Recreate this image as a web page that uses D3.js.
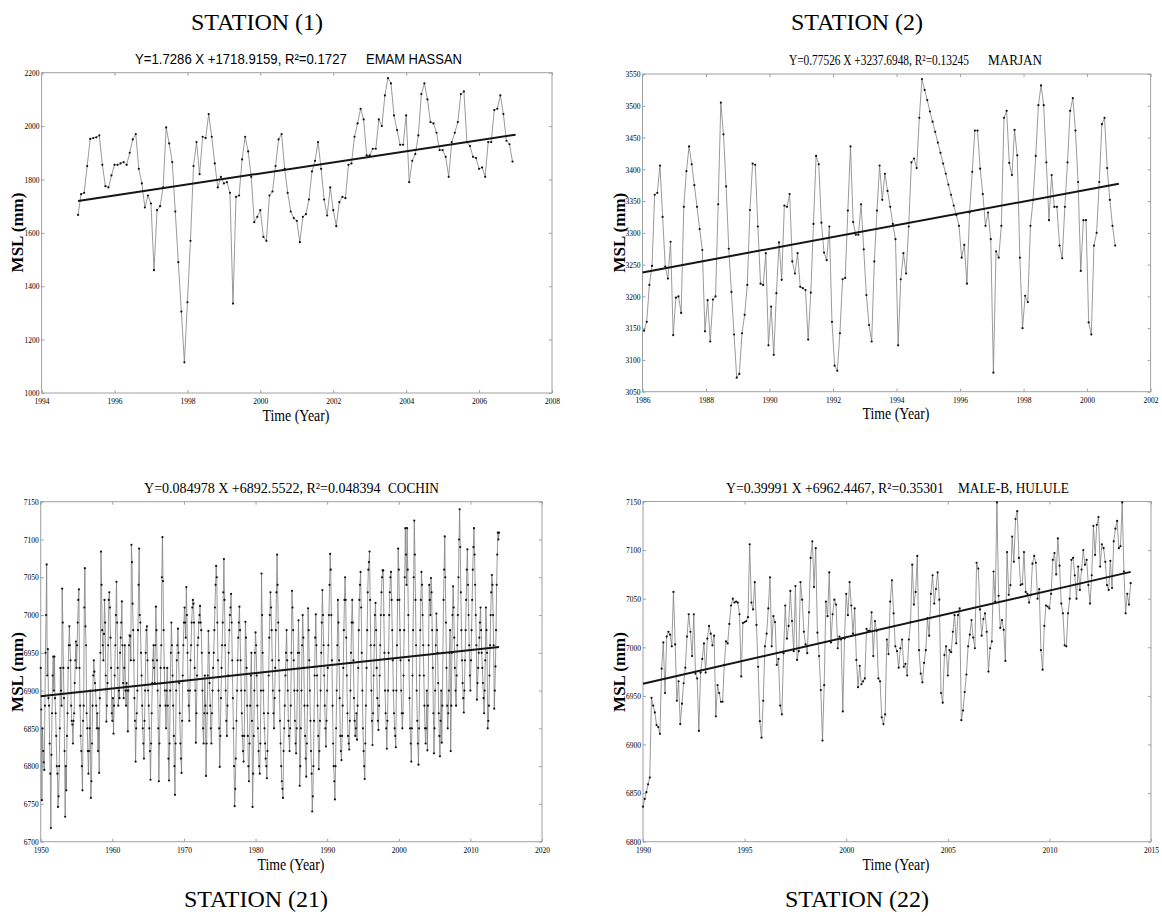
<!DOCTYPE html>
<html>
<head>
<meta charset="utf-8">
<script src="https://cdn.jsdelivr.net/npm/d3@7"></script>
<style>
	body { margin: 0; background: #fff; }
	text { fill: #000; }
	.frame { fill: none; stroke: #a0a0a0; stroke-width: 1; }
	.tick line { stroke: #a0a0a0; }
	.msl { fill: none; stroke: #808080; stroke-width: .8; }
	.dot { fill: #111; }
	.trend { stroke: #151515; stroke-width: 2; }
</style>
</head>
<body>
<script>

// Titels en regressie uit de figuur
const stationTitles = [ 'STATION (1)', 'STATION (2)', 'STATION (21)', 'STATION (22)' ],
	stationNames = [ 'EMAM HASSAN', 'MARJAN', 'COCHIN', 'MALE-B, HULULE' ],
	slopes = [ 1.7286, 0.77526, 0.084978, 0.39991 ],
	intercepts = [ 1718.9159, 3237.6948, 6892.5522, 6962.4467 ],
	rSquared = [ 0.1727, 0.13245, 0.048394, 0.35301 ],
	startYears = [ 1995, 1986.05, 1950, 1990 ], // eerste maand van elke reeks
	trendMonths = [ 144, 180, 768, 288 ], // lengte van de trendlijn in maanden

	xTicks1 = [ 1994, 1996, 1998, 2000, 2002, 2004, 2006, 2008 ],
	xTicks2 = [ 1986, 1988, 1990, 1992, 1994, 1996, 1998, 2000, 2002 ],
	xTicks3 = [ 1950, 1960, 1970, 1980, 1990, 2000, 2010, 2020 ],
	xTicks4 = [ 1990, 1995, 2000, 2005, 2010, 2015 ],

	yTicks1 = [ 1000, 1200, 1400, 1600, 1800, 2000, 2200 ],
	yTicks2 = [ 3050, 3100, 3150, 3200, 3250, 3300, 3350, 3400, 3450, 3500, 3550 ],
	yTicks3 = [ 6700, 6750, 6800, 6850, 6900, 6950, 7000, 7050, 7100, 7150 ],
	yTicks4 = [ 6800, 6850, 6900, 6950, 7000, 7050, 7100, 7150 ]

const msl1 = [
	1667, 1745, 1750, 1850, 1952, 1955, 1958, 1965, 1855, 1775, 1770, 1815,
	1855, 1855, 1860, 1865, 1855, 1900, 1950, 1970, 1840, 1785, 1695, 1740,
	1710, 1460, 1685, 1700, 1770, 1995, 1935, 1865, 1680, 1490, 1305, 1115,
	1340, 1570, 1850, 1940, 1820, 1960, 1955, 2045, 1960, 1860, 1770, 1810,
	1785, 1790, 1750, 1335, 1735, 1740, 1875, 1960, 1905, 1810, 1640, 1660,
	1685, 1585, 1570, 1740, 1755, 1850, 1950, 1970, 1840, 1750, 1680, 1655,
	1645, 1565, 1660, 1670, 1725, 1830, 1870, 1940, 1840, 1725, 1665, 1770,
	1685, 1625, 1715, 1735, 1730, 1855, 1860, 1960, 2010, 2065, 2025, 1890,
	1890, 1915, 1915, 2025, 2000, 2115, 2180, 2160, 2040, 1985, 1930, 1930,
	2040, 1790, 1870, 1895, 1965, 2120, 2160, 2100, 2015, 2010, 1975, 1910,
	1910, 1885, 1810, 1940, 1975, 2015, 2120, 2130, 1940, 1925, 1885, 1880,
	1840, 1845, 1810, 1940, 1940, 2060, 2065, 2115, 2045, 1945, 1932, 1867
]

const msl2 = [
	3146, 3160, 3218, 3248, 3360, 3363, 3406, 3325, 3247, 3228,
	3286, 3139, 3198, 3200, 3174, 3341, 3397, 3436, 3408, 3375,
	3341, 3306, 3273, 3145, 3194, 3129, 3195, 3200, 3345, 3505,
	3455, 3373, 3275, 3207, 3140, 3072, 3078, 3142, 3171, 3218,
	3336, 3409, 3407, 3310, 3220, 3218, 3268, 3123, 3184, 3108,
	3205, 3285, 3226, 3343, 3341, 3361, 3255, 3236, 3268, 3215,
	3213, 3210, 3132, 3206, 3314, 3421, 3408, 3316, 3269, 3257,
	3310, 3160, 3091, 3083, 3142, 3227, 3229, 3335, 3436, 3317,
	3297, 3297, 3345, 3274, 3202, 3155, 3129, 3255, 3335, 3406,
	3352, 3393, 3366, 3341, 3314, 3290, 3123, 3227, 3268, 3236,
	3310, 3411, 3417, 3402, 3481, 3542, 3525, 3509, 3491, 3475,
	3459, 3442, 3426, 3409, 3393, 3376, 3360, 3343, 3328, 3311,
	3261, 3281, 3220, 3332, 3396, 3461, 3461, 3401, 3361, 3311,
	3332, 3290, 3080, 3271, 3261, 3311, 3481, 3492, 3410, 3391,
	3462, 3422, 3261, 3150, 3201, 3191, 3311, 3352, 3421, 3501,
	3532, 3501, 3411, 3320, 3391, 3341, 3341, 3280, 3260, 3341,
	3411, 3492, 3512, 3461, 3380, 3240, 3320, 3320, 3159, 3140,
	3280, 3300, 3380, 3471, 3481, 3402, 3352, 3311, 3280
]

const msl3 = [
	6930, 6875, 6755, 6850, 6820, 6805, 6795, 6880, 6950, 7000, 7067, 6920,
	6955, 6890, 6880, 6830, 6790, 6718, 6815, 6870, 6920, 6945, 6900, 6945,
	6890, 6870, 6840, 6800, 6790, 6746, 6760, 6800, 6850, 6930, 6900, 6880,
	7035, 6990, 6930, 6890, 6820, 6733, 6800, 6768, 6840, 6870, 6930, 6960,
	6985, 6960, 6940, 6880, 6860, 6855, 6830, 6860, 6870, 6910, 6940, 6965,
	6930, 6960, 6990, 7020, 7034, 6930, 6880, 6840, 6820, 6800, 6768, 6860,
	6880, 7010, 7062, 6985, 6960, 6870, 6850, 6820, 6790, 6820, 6850, 6900,
	6758, 6780, 6830, 6880, 6920, 6940, 6925, 6910, 6900, 6880, 6850, 6870,
	6820, 6850, 6791, 6890, 6950, 7084, 7040, 6980, 6960, 6940, 6975, 7020,
	6990, 6920, 6859, 6880, 6910, 6960, 7020, 7030, 7010, 6970, 6930, 6870,
	6860, 6890, 6843, 6880, 6920, 6960, 7000, 7044, 6990, 6930, 6880, 6900,
	6890, 6950, 6970, 6990, 7018, 6960, 6910, 6890, 6930, 6960, 6900, 6880,
	6910, 6900, 6846, 6900, 6960, 6973, 6972, 6940, 7093, 7070, 7015, 6980,
	6940, 6890, 6860, 6806, 6850, 6870, 6900, 6980, 7040, 7088, 7000, 6990,
	6950, 6920, 6880, 6850, 6830, 6810, 6860, 6900, 6950, 6980, 6985, 6940,
	6900, 6880, 6850, 6820, 6782, 6830, 6870, 6910, 6940, 6960, 6930, 6910,
	6960, 7011, 6980, 6940, 6900, 6850, 6780, 6830, 6880, 6930, 6960, 7050,
	7103, 7045, 6980, 6930, 6900, 6880, 6850, 6900, 6930, 6880, 6810, 6781,
	6830, 6900, 6950, 6990, 6960, 6920, 6880, 6840, 6800, 6762, 6830, 6900,
	6940, 6960, 6982, 6950, 6910, 6870, 6830, 6810, 6791, 6860, 6920, 6960,
	6990, 7010, 6990, 6970, 7037, 7000, 6950, 6900, 6880, 6860, 6900, 6940,
	6960, 6990, 7010, 7020, 7015, 6990, 6930, 6900, 6831, 6870, 6920, 6960,
	6970, 6990, 7000, 7012, 6990, 6980, 6950, 6900, 6850, 6830, 6870, 6920,
	6880, 6787, 6830, 6870, 6920, 6979, 6950, 6910, 6880, 6850, 6830, 6870,
	6900, 6930, 6950, 6980, 7010, 7040, 7065, 7050, 6990, 6940, 6900, 6850,
	6799, 6840, 6890, 6930, 6960, 6990, 7030, 7074, 7020, 6960, 6900, 6860,
	6840, 6880, 6920, 6950, 6980, 7000, 7010, 7028, 6990, 6940, 6890, 6850,
	6800, 6747, 6770, 6810, 6860, 6900, 6940, 6970, 6990, 7011, 6980, 6940,
	6900, 6870, 6840, 6820, 6806, 6840, 6900, 6991, 6970, 6930, 6880, 6840,
	6800, 6780, 6830, 6880, 6920, 6950, 6860, 6746, 6790, 6840, 6900, 6950,
	6977, 6960, 6920, 6880, 6850, 6820, 6800, 6790, 6830, 6900, 7055, 7000,
	6950, 6900, 6870, 6850, 6830, 6810, 6800, 6784, 6820, 6870, 6920, 6970,
	7000, 7030, 7010, 6980, 6940, 6900, 6870, 6850, 6890, 6930, 6980, 7030,
	7080, 7040, 6990, 6940, 6900, 6860, 6830, 6800, 6780, 6770, 6758, 6820,
	6850, 6880, 6920, 6950, 6980, 6940, 6900, 6860, 6840, 6820, 6850, 6880,
	6950, 7032, 7010, 6980, 6940, 6900, 6860, 6830, 6817, 6850, 6900, 6950,
	6993, 6950, 6774, 6800, 6850, 6900, 6960, 7000, 6970, 6930, 6880, 6840,
	6810, 6786, 6830, 6880, 7009, 6980, 6940, 6900, 6860, 6820, 6790, 6740,
	6760, 6800, 6860, 6920, 6970, 7001, 6960, 6920, 6880, 6840, 6796, 6820,
	6860, 6900, 6950, 6990, 7033, 7000, 6960, 6920, 6880, 6850, 6826, 6860,
	6900, 6930, 6960, 7000, 7040, 7081, 7060, 7000, 6940, 6880, 6830, 6800,
	6780, 6756, 6800, 6850, 6900, 6960, 7020, 6990, 6940, 6890, 6840, 6820,
	6808, 6840, 6880, 6930, 6980, 7020, 7050, 7020, 6970, 6920, 6870, 6840,
	6830, 6822, 6860, 6900, 6950, 6990, 7020, 6990, 6940, 6890, 6860, 6840,
	6850, 6870, 6835, 6880, 6930, 6980, 7020, 7040, 7057, 7010, 6950, 6900,
	6850, 6820, 6800, 6783, 6830, 6880, 6930, 6980, 7030, 7060, 7070, 7084,
	7020, 6960, 6900, 6860, 6828, 6870, 6920, 6960, 7000, 7016, 6980, 6930,
	6890, 6860, 6848, 6880, 6920, 6960, 7000, 7030, 7050, 7059, 7059, 7000,
	6950, 6900, 6870, 6850, 6823, 6860, 6900, 6950, 7000, 7030, 7050, 7057,
	7020, 6980, 6940, 6900, 6870, 6850, 6840, 6825, 6900, 6960, 7020, 7088,
	7060, 7020, 6980, 6940, 6900, 6870, 6850, 6870, 6920, 6980, 7050, 7115,
	7080, 7040, 7115, 7060, 7000, 6940, 6890, 6850, 6830, 6806, 6850, 6920,
	6980, 7050, 7125, 7080, 7020, 6960, 6900, 6860, 6830, 6802, 6850, 6920,
	6980, 7020, 7057, 7040, 7000, 6960, 6920, 6880, 6850, 6830, 6850, 6900,
	6821, 6880, 6960, 7040, 7020, 7000, 7049, 7030, 6980, 6930, 6870, 6817,
	6850, 6900, 6960, 7002, 6980, 6950, 6910, 6870, 6840, 6813, 6860, 6900,
	6831, 6880, 6950, 7020, 7060, 7104, 7050, 6990, 6930, 6880, 6850, 6870,
	6900, 6950, 6980, 6820, 6880, 6950, 7000, 7038, 7010, 6970, 6930, 6900,
	6880, 6920, 6960, 7000, 7050, 7100, 7140, 7090, 7030, 6980, 6940, 6910,
	6890, 6871, 6900, 6940, 6980, 7020, 7060, 7087, 7040, 7000, 6960, 6920,
	6900, 6940, 6980, 7020, 7060, 7090, 7115, 7080, 7040, 7000, 6960, 6888,
	6910, 6930, 6950, 6970, 6990, 7010, 6980, 6950, 6930, 6910, 6890, 6870,
	6900, 6940, 7010, 6980, 6950, 6850, 6860, 6880, 6920, 6960, 7000, 7030,
	7053, 7040, 7000, 6960, 6876, 6900, 6932, 6980, 7040, 7080, 7109, 7100,
	7109
]

const msl4 = [
	6836, 6844, 6851, 6859, 6866, 6948, 6940, 6933, 6920, 6918,
	6911, 6978, 7005, 6953, 7011, 7016, 7013, 7001, 7057, 7003,
	6945, 6965, 6921, 6942, 6963, 6979, 7011, 7034, 7016, 6991,
	7034, 6973, 6968, 6914, 6974, 6988, 7004, 6974, 7009, 7022,
	7014, 7002, 7012, 6929, 6961, 6953, 6944, 6944, 6982, 7006,
	7004, 7024, 7043, 7050, 7046, 7047, 7046, 7034, 6970, 7025,
	7026, 7027, 7031, 7106, 7046, 7039, 7067, 7023, 6980, 6924,
	6907, 6945, 7001, 7014, 7040, 7072, 7001, 7032, 7026, 6982,
	6988, 6940, 6931, 6994, 7043, 7009, 7022, 7058, 7027, 6996,
	7063, 6987, 6996, 7067, 7049, 7016, 7003, 6994, 7036, 7092,
	7109, 7062, 7102, 7015, 6991, 6956, 6904, 6961, 7047, 7032,
	7077, 7005, 7034, 7049, 7044, 6999, 7011, 7008, 6934, 7009,
	7055, 7033, 7067, 7043, 7014, 7040, 6987, 6959, 6981, 6962,
	6965, 6968, 7019, 7017, 7017, 7036, 6991, 7027, 7017, 6968,
	6965, 6928, 6921, 6931, 7008, 6993, 7047, 7069, 7035, 7001,
	6996, 6979, 6999, 7008, 6980, 6983, 6971, 7008, 7026,
	7085, 7044, 7057, 7094, 6997, 6973, 6964, 6984, 6997, 7030,
	7012, 7055, 7074, 7045, 7060, 7077, 7049, 6953, 6943, 6992,
	7001, 6971, 6997, 6995, 7016, 7033, 7004, 7033, 7040, 6925,
	6935, 6954, 6972, 7001, 7013, 7028, 7010, 6999, 7087, 7081,
	7039, 7012, 7029, 7035, 7016, 6975, 6999, 7006, 7078, 7047,
	7149, 7053, 7020, 7028, 7018, 6986, 7098, 7054, 7064, 7114,
	7088, 7132, 7140, 7092, 7064, 7065, 7098, 7057, 7055, 7046,
	7054, 7086, 7094, 7087, 7050, 7060, 6997, 6977, 7022, 7043,
	7042, 7040, 7055, 7090, 7097, 7075, 7112, 7084, 7045, 7035,
	7002, 7001, 7035, 7050, 7090, 7092, 7074, 7050, 7083, 7059,
	7080, 7100, 7085, 7090, 7064, 7045, 7074, 7125, 7095, 7126,
	7134, 7083, 7106, 7102, 7088, 7064, 7059, 7089, 7061, 7109,
	7122, 7130, 7102, 7104, 7149, 7078, 7035, 7055, 7044, 7066
]

const series = [ msl1, msl2, msl3, msl4 ],
	xTicks = [ xTicks1, xTicks2, xTicks3, xTicks4 ],
	yTicks = [ yTicks1, yTicks2, yTicks3, yTicks4 ]

// Plek van elk paneel op de pagina
const layout = [
	{ x0: 41.6, x1: 552, y0: 72.7, y1: 393, title: [ 257, 30 ], eq: [ 135, 64, 212 ], name: [ 366, 96 ], time: [ 296, 421 ], msl: [ 17, 232.5 ], sans: true },
	{ x0: 642.5, x1: 1150.6, y0: 74, y1: 391.7, title: [ 857, 30 ], eq: [ 789, 65, 180 ], name: [ 988, 54 ], time: [ 896, 419 ], msl: [ 618.6, 232.7 ] },
	{ x0: 40.7, x1: 542, y0: 501.7, y1: 841.7, title: [ 256, 907 ], eq: [ 144, 492.7, 237 ], name: [ 388, 51 ], time: [ 291, 870 ], msl: [ 17, 672 ] },
	{ x0: 643, x1: 1151, y0: 501.5, y1: 841.7, title: [ 857, 907 ], eq: [ 726, 492.7, 218 ], name: [ 958, 111 ], time: [ 896, 870 ], msl: [ 618.6, 672 ] }
]

const serif = '"Liberation Serif", "Times New Roman", serif',
	sans = '"Liberation Sans", Arial, sans-serif'

const svg = d3.select( 'body' )
	.append( 'svg' )
	.attr( 'width', 1162 )
	.attr( 'height', 916 )

layout.forEach( ( box, p ) => drawPanel( box, p ) )

// Tekst smaller maken tot de gemeten breedte (de figuur is horizontaal geplet)
function squeeze( sel, x, y, width, anchor ) {

	const natural = sel.node().getComputedTextLength(),
		k = Math.min( 1, width / natural ),
		shift = anchor === 'middle' ? 0 : 0

	sel.attr( 'x', 0 )
		.attr( 'y', 0 )
		.attr( 'text-anchor', anchor || 'start' )
		.attr( 'transform', `translate( ${ x + shift }, ${ y } ) scale( ${ k }, 1 )` )

}

function drawPanel( box, p ) {

	const values = series[ p ],
		x = d3.scaleLinear()
			.domain( d3.extent( xTicks[ p ] ) )
			.range( [ box.x0, box.x1 ] ),
		y = d3.scaleLinear()
			.domain( d3.extent( yTicks[ p ] ) )
			.range( [ box.y1, box.y0 ] ),
		points = values.map( ( v, i ) => ( { t: startYears[ p ] + i / 12, v } ) ),
		g = svg.append( 'g' ),
		font = box.sans ? sans : serif

	// Assen met de streepjes naar binnen
	const styleTicks = sel => {
		sel.select( '.domain' ).remove()
		sel.selectAll( 'text' )
			.attr( 'font-family', serif )
			.attr( 'font-size', 8.5 )
			.attr( 'textLength', 15 )
			.attr( 'lengthAdjust', 'spacingAndGlyphs' )
	}

	g.append( 'g' )
		.attr( 'transform', `translate( 0, ${ box.y1 } )` )
		.call( d3.axisBottom( x ).tickValues( xTicks[ p ] ).tickFormat( d3.format( 'd' ) ).tickSizeInner( -3 ).tickSizeOuter( 0 ).tickPadding( 5 ) )
		.call( styleTicks )

	g.append( 'g' )
		.attr( 'transform', `translate( ${ box.x0 }, 0 )` )
		.call( d3.axisLeft( y ).tickValues( yTicks[ p ] ).tickFormat( d3.format( 'd' ) ).tickSizeInner( -3 ).tickSizeOuter( 0 ).tickPadding( 2 ) )
		.call( styleTicks )

	g.append( 'g' )
		.attr( 'transform', `translate( 0, ${ box.y0 } )` )
		.call( d3.axisTop( x ).tickValues( xTicks[ p ] ).tickFormat( '' ).tickSizeInner( -3 ).tickSizeOuter( 0 ) )
		.call( styleTicks )

	g.append( 'g' )
		.attr( 'transform', `translate( ${ box.x1 }, 0 )` )
		.call( d3.axisRight( y ).tickValues( yTicks[ p ] ).tickFormat( '' ).tickSizeInner( -3 ).tickSizeOuter( 0 ) )
		.call( styleTicks )

	g.append( 'rect' )
		.attr( 'class', 'frame' )
		.attr( 'x', box.x0 )
		.attr( 'y', box.y0 )
		.attr( 'width', box.x1 - box.x0 )
		.attr( 'height', box.y1 - box.y0 )

	// De meetreeks
	g.append( 'path' )
		.datum( points )
		.attr( 'class', 'msl' )
		.attr( 'd', d3.line().x( d => x( d.t ) ).y( d => y( d.v ) ) )

	g.selectAll( '.dot' )
		.data( points )
		.enter()
		.append( 'circle' )
		.attr( 'class', 'dot' )
		.attr( 'cx', d => x( d.t ) )
		.attr( 'cy', d => y( d.v ) )
		.attr( 'r', 1.1 )

	// Trendlijn uit de vergelijking in de titel
	const months = trendMonths[ p ],
		t0 = Math.round( startYears[ p ] )

	g.append( 'line' )
		.attr( 'class', 'trend' )
		.attr( 'x1', x( t0 ) )
		.attr( 'y1', y( intercepts[ p ] ) )
		.attr( 'x2', x( t0 + months / 12 ) )
		.attr( 'y2', y( intercepts[ p ] + slopes[ p ] * months ) )

	// Teksten
	g.append( 'text' )
		.attr( 'x', box.title[ 0 ] )
		.attr( 'y', box.title[ 1 ] )
		.attr( 'text-anchor', 'middle' )
		.attr( 'font-family', serif )
		.attr( 'font-size', 24 )
		.text( stationTitles[ p ] )

	const eq = g.append( 'text' )
		.attr( 'font-family', font )
		.attr( 'font-size', box.sans ? 14 : 15 )
		.text( `Y=${ slopes[ p ] } X +${ intercepts[ p ] }, R\u00b2=${ rSquared[ p ] }` )

	squeeze( eq, box.eq[ 0 ], box.eq[ 1 ], box.eq[ 2 ] )

	const name = g.append( 'text' )
		.attr( 'font-family', font )
		.attr( 'font-size', box.sans ? 14 : 15 )
		.text( stationNames[ p ] )

	squeeze( name, box.name[ 0 ], box.eq[ 1 ], box.name[ 1 ] )

	const time = g.append( 'text' )
		.attr( 'font-family', serif )
		.attr( 'font-size', 16 )
		.text( 'Time (Year)' )

	squeeze( time, box.time[ 0 ], box.time[ 1 ], 67, 'middle' )

	g.append( 'text' )
		.attr( 'transform', `translate( ${ box.msl[ 0 ] + 6 }, ${ box.msl[ 1 ] } ) rotate( -90 )` )
		.attr( 'text-anchor', 'middle' )
		.attr( 'font-family', serif )
		.attr( 'font-weight', 'bold' )
		.attr( 'font-size', 17 )
		.text( 'MSL (mm)' )

}

</script>
</body>
</html>
